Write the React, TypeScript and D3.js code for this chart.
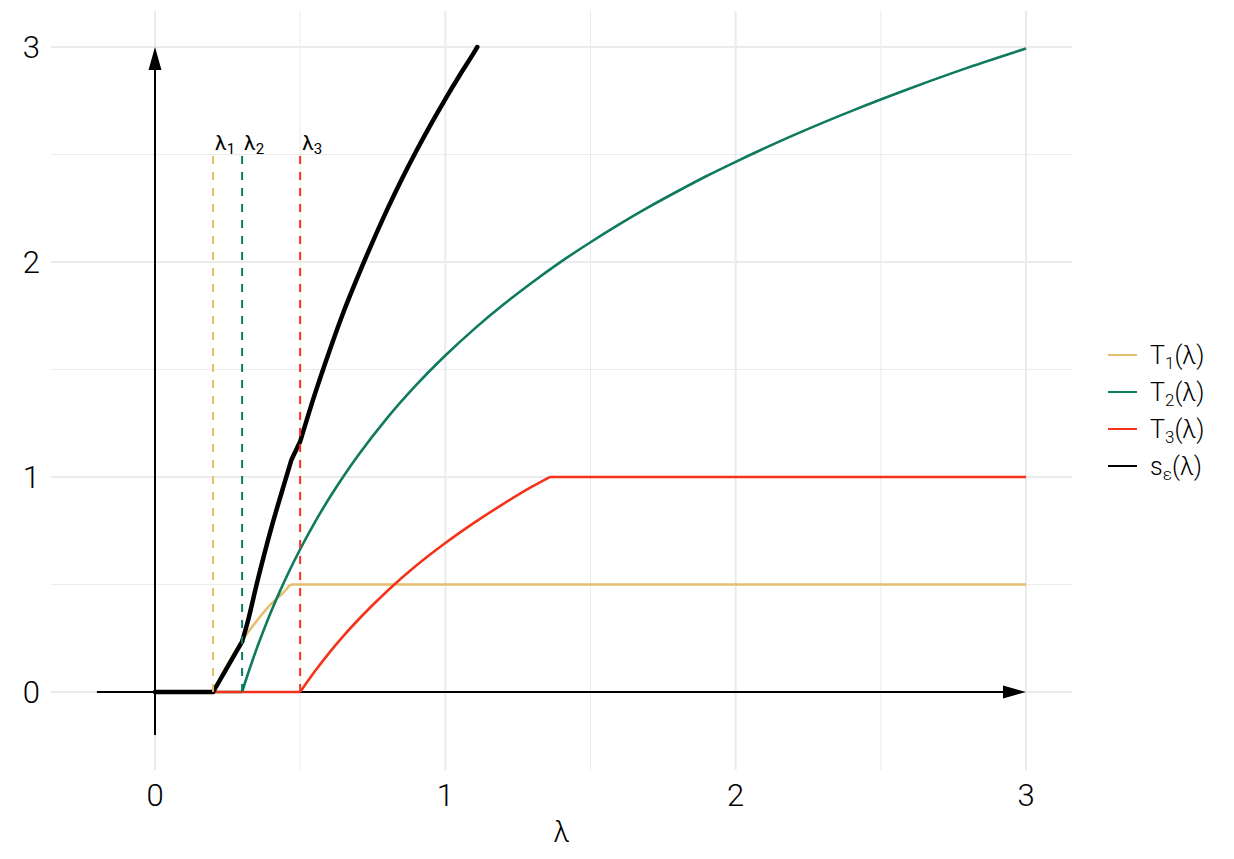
import * as d3 from "d3";

// lambda grid readings taken off the plot
const t1Lambda = [0, 0.2, 0.25, 0.3, 0.35, 0.4, 0.44, 0.467, 3];
const t1Value = [0, 0, 0.13, 0.24, 0.33, 0.41, 0.46, 0.5, 0.5];
const t1Kinks = [0.2, 0.467];

const t2Lambda = [0, 0.3, 0.31, 0.32, 0.34, 0.36, 0.38, 0.4, 0.43, 0.46, 0.5, 0.55, 0.6, 0.65, 0.7, 0.8, 0.9, 1.0, 1.1, 1.2, 1.3, 1.4, 1.5, 1.6, 1.7, 1.8, 1.9, 2.0, 2.2, 2.4, 2.6, 2.8, 3.0];
const t2Value = [0, 0, 0.043, 0.084, 0.163, 0.237, 0.307, 0.374, 0.468, 0.556, 0.664, 0.788, 0.901, 1.005, 1.101, 1.275, 1.428, 1.565, 1.689, 1.802, 1.906, 2.003, 2.092, 2.176, 2.255, 2.329, 2.4, 2.466, 2.59, 2.703, 2.807, 2.904, 2.993];
const t2Kinks = [0.3];

const t3Lambda = [0, 0.5, 0.55, 0.6, 0.65, 0.7, 0.8, 0.9, 1.0, 1.1, 1.2, 1.3, 1.36, 3];
const t3Value = [0, 0, 0.095, 0.182, 0.262, 0.336, 0.47, 0.588, 0.693, 0.788, 0.875, 0.956, 1.0, 1.0];
const t3Kinks = [0.5, 1.36];

const sLambda = [0, 0.2, 0.3, 0.32, 0.35, 0.4, 0.45, 0.47, 0.5, 0.55, 0.6, 0.65, 0.7, 0.75, 0.8, 0.85, 0.9, 0.95, 1.0, 1.05, 1.1, 1.11];
const sValue = [0, 0, 0.234, 0.33, 0.5, 0.76, 0.99, 1.08, 1.165, 1.383, 1.583, 1.77, 1.937, 2.095, 2.245, 2.385, 2.516, 2.64, 2.758, 2.87, 2.977, 3.0];
const sKinks = [0.2, 0.3, 0.47, 0.5];

const thresholds = [0.2, 0.3, 0.5];
const thresholdLabels = ["1", "2", "3"];
const thresholdTop = 2.5;

const xTicks = [0, 1, 2, 3];
const yTicks = [0, 1, 2, 3];
const minorTicks = [0.5, 1.5, 2.5];

const seriesNames = ["T", "T", "T", "s"];
const seriesSubs = ["1", "2", "3", "ε"];
const colors = ["#E5BF6C", "#0E7A5E", "#F5331B", "#000000"];

const width = 1234,
  height = 859,
  panelLeft = 51,
  panelRight = 1072,
  panelTop = 11,
  panelBottom = 770;

const font = "Roboto, 'Open Sans', sans-serif";

const App = () => {
  const x = d3.scaleLinear([0, 3], [155, 1026]);
  const y = d3.scaleLinear([0, 3], [692, 47]);

  const line = d3
    .line<[number, number]>()
    .x((d) => x(d[0]))
    .y((d) => y(d[1]))
    .curve(d3.curveMonotoneX);

  // split a series at its kinks so each smooth piece gets its own curve
  const pieces = (lam: number[], val: number[], kinks: number[]) => {
    const pts = lam.map((v, i) => [v, val[i]] as [number, number]);
    const out: [number, number][][] = [];
    let cur: [number, number][] = [];
    pts.forEach((p) => {
      cur.push(p);
      if (kinks.some((k) => Math.abs(k - p[0]) < 1e-9)) {
        out.push(cur);
        cur = [p];
      }
    });
    if (cur.length > 1) out.push(cur);
    return out.map((c) => line(c) ?? "").join("");
  };

  const series = [
    pieces(t1Lambda, t1Value, t1Kinks),
    pieces(t2Lambda, t2Value, t2Kinks),
    pieces(t3Lambda, t3Value, t3Kinks),
    pieces(sLambda, sValue, sKinks),
  ];

  const arrow = (tipX: number, tipY: number, dir: "up" | "right") => {
    const len = 23,
      half = 6.5;
    if (dir === "right")
      return `M${tipX},${tipY} L${tipX - len},${tipY - half} L${tipX - len},${tipY + half} Z`;
    return `M${tipX},${tipY} L${tipX - half},${tipY + len} L${tipX + half},${tipY + len} Z`;
  };

  return (
    <svg
      width={width}
      height={height}
      style={{ position: "absolute", left: 0, top: 0, background: "#fff" }}
      fontFamily={font}
    >
      {/* grid */}
      <g stroke="#EBEBEB" fill="none">
        {minorTicks.map((t) => (
          <line key={"mx" + t} x1={x(t)} x2={x(t)} y1={panelTop} y2={panelBottom} strokeWidth={1} />
        ))}
        {minorTicks.map((t) => (
          <line key={"my" + t} y1={y(t)} y2={y(t)} x1={panelLeft} x2={panelRight} strokeWidth={1} />
        ))}
        {xTicks.map((t) => (
          <line key={"gx" + t} x1={x(t)} x2={x(t)} y1={panelTop} y2={panelBottom} strokeWidth={2} />
        ))}
        {yTicks.map((t) => (
          <line key={"gy" + t} y1={y(t)} y2={y(t)} x1={panelLeft} x2={panelRight} strokeWidth={2} />
        ))}
      </g>

      {/* axes with arrows */}
      <g stroke="#000" strokeWidth={2}>
        <line x1={x(-0.2)} x2={x(3) - 20} y1={y(0)} y2={y(0)} />
        <line x1={x(0)} x2={x(0)} y1={y(-0.2)} y2={y(3) + 20} />
      </g>
      <path d={arrow(x(3), y(0), "right")} fill="#000" />
      <path d={arrow(x(0), y(3), "up")} fill="#000" />

      {/* curves */}
      {series.map((d, i) => (
        <path
          key={i}
          d={d}
          fill="none"
          stroke={colors[i]}
          strokeWidth={i === 3 ? 4.5 : 2.6}
          strokeLinejoin="round"
          strokeLinecap={i === 3 ? "round" : "butt"}
        />
      ))}

      {/* threshold lines */}
      {thresholds.map((t, i) => (
        <g key={"th" + i}>
          <line
            x1={x(t)}
            x2={x(t)}
            y1={y(0)}
            y2={y(thresholdTop)}
            stroke={colors[i]}
            strokeWidth={2}
            strokeDasharray="8,8"
          />
          <text x={x(t) + 2} y={y(thresholdTop) - 5} fontSize={21} fill="#000">
            λ<tspan fontSize={15} dy={4}>{thresholdLabels[i]}</tspan>
          </text>
        </g>
      ))}

      {/* tick labels */}
      <g fontSize={31} fontWeight={300} fill="#000">
        {xTicks.map((t) => (
          <text key={"xl" + t} x={x(t)} y={806} textAnchor="middle">
            {t}
          </text>
        ))}
        {yTicks.map((t) => (
          <text key={"yl" + t} x={40} y={y(t)} dy="0.36em" textAnchor="end">
            {t}
          </text>
        ))}
      </g>
      <text x={(panelLeft + panelRight) / 2} y={842} textAnchor="middle" fontSize={29} fontWeight={300}>
        λ
      </text>

      {/* legend */}
      <g>
        {seriesNames.map((n, i) => {
          const ly = 355 + i * 37;
          return (
            <g key={"lg" + i}>
              <line x1={1108} x2={1137} y1={ly} y2={ly} stroke={colors[i]} strokeWidth={2} />
              <text x={1150} y={ly} dy="0.36em" fontSize={25} fontWeight={300}>
                {n}
                <tspan fontSize={17} dy={5}>{seriesSubs[i]}</tspan>
                <tspan dy={-5}>(λ)</tspan>
              </text>
            </g>
          );
        })}
      </g>
    </svg>
  );
};

export default App;
